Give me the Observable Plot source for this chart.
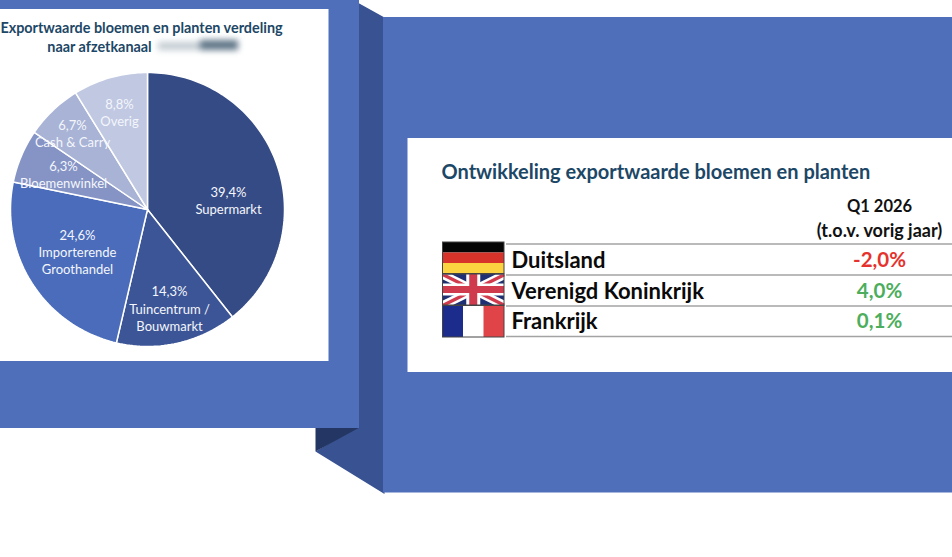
<!DOCTYPE html>
<html>
<head>
<meta charset="utf-8">
<script src="https://cdn.jsdelivr.net/npm/d3@7"></script>
<script src="https://cdn.jsdelivr.net/npm/@observablehq/plot@0.6"></script>
<style>html,body{margin:0;padding:0;background:#fff}svg{display:block}</style>
</head>
<body>
<div id="chart"></div>
<script>
// Data
const channels = ["Supermarkt", "Tuincentrum /\nBouwmarkt", "Importerende\nGroothandel", "Bloemenwinkel", "Cash & Carry", "Overig"];
const shares = [39.4, 14.3, 24.6, 6.3, 6.7, 8.8];
const shareLabels = ["39,4%", "14,3%", "24,6%", "6,3%", "6,7%", "8,8%"];
const sliceColors = ["#344b85", "#3c5596", "#4a6cba", "#8594c5", "#a8b3d6", "#c0c8e2"];
const countries = ["Duitsland", "Verenigd Koninkrijk", "Frankrijk"];
const changes = ["-2,0%", "4,0%", "0,1%"];
const changeColors = ["#e5322d", "#4cae5c", "#4cae5c"];

// Layout (pixel-space scales: one unit on each scale is one pixel)
const W = 952, H = 557;
const BLUE = "#4f6fbb", SIDE = "#385292", SHADE = "#243764", TITLE = "#1d4766", FONT = "Lato, Carlito, sans-serif";
const pie = {cx: 147, cy: 209, r: 137};
const labelAt = [[228, 199.5], [169, 307.5], [77, 251], [63, 173.5], [72, 132.5], [119, 111.5]];
const rowsY = [260, 291, 321];
const ruleY = [243.5, 274.5, 305.5, 336];
const valueX = 879;
const flag = {x1: 442.5, x2: 504};
const flagRows = [[242, 273.5], [274, 305], [305.5, 337]];

const boxes = [
  {x1: 383, x2: W, y1: 17, y2: 492.5, fill: BLUE},
  {x1: 0, x2: 359, y1: 0, y2: 428, fill: BLUE},
  {x1: 0, x2: 328.5, y1: 9, y2: 361, fill: "#fff"},
  {x1: 407.5, x2: W, y1: 138, y2: 372, fill: "#fff"}
];
const polys = [
  {id: "side", fill: SIDE, pts: [[357, 2], [384, 17], [384, 493.5], [315, 451], [357, 426]]},
  {id: "shade", fill: SHADE, pts: [[315, 427], [359, 427], [315, 451]]}
];
const polyPoints = polys.flatMap(p => p.pts.map(([x, y]) => ({id: p.id, fill: p.fill, x, y})));

// Pie slices through d3.pie
const arcs = d3.pie().sort(null)(shares);
const slicePoints = arcs.flatMap((a, i) => {
  const n = Math.ceil((a.endAngle - a.startAngle) * 40);
  const pts = [{i, x: pie.cx, y: pie.cy}];
  for (let k = 0; k <= n; k++) {
    const t = a.startAngle + (a.endAngle - a.startAngle) * k / n;
    pts.push({i, x: pie.cx + pie.r * Math.sin(t), y: pie.cy - pie.r * Math.cos(t)});
  }
  return pts;
});
const sliceLabels = channels.map((c, i) => ({text: shareLabels[i] + "\n" + c, x: labelAt[i][0], y: labelAt[i][1]}));

// Flags
const [de, uk, fr] = flagRows;
const third = (flag.x2 - flag.x1) / 3, rowH = (de[1] - de[0]) / 3;
const flagRects = [
  {x1: flag.x1, x2: flag.x2, y1: de[0], y2: de[0] + rowH, fill: "#050505"},
  {x1: flag.x1, x2: flag.x2, y1: de[0] + rowH, y2: de[0] + 2 * rowH, fill: "#d8332a"},
  {x1: flag.x1, x2: flag.x2, y1: de[0] + 2 * rowH, y2: de[1], fill: "#fbd23f"},
  {x1: flag.x1, x2: flag.x2, y1: uk[0], y2: uk[1], fill: "#1f2f74"},
  {x1: flag.x1, x2: flag.x1 + third, y1: fr[0], y2: fr[1], fill: "#1c2c8c"},
  {x1: flag.x1 + third, x2: flag.x1 + 2 * third, y1: fr[0], y2: fr[1], fill: "#ffffff"},
  {x1: flag.x1 + 2 * third, x2: flag.x2, y1: fr[0], y2: fr[1], fill: "#e04448"}
];
function diagonal(id, flip, tx, ty, fill) {
  const X = u => flip ? flag.x1 + flag.x2 - u : u;
  const a = flag.x1, b = flag.x2, c = uk[0], d = uk[1];
  return [[a, c], [a + tx, c], [b, d - ty], [b, d], [b - tx, d], [a, c + ty]]
    .map(([x, y]) => ({id, fill, x: X(x), y}));
}
const ukDiagonals = [
  ...diagonal("w1", false, 9, 5, "#ffffff"),
  ...diagonal("w2", true, 9, 5, "#ffffff"),
  ...diagonal("r1", false, 3.5, 2, "#cf3a4c"),
  ...diagonal("r2", true, 3.5, 2, "#cf3a4c")
];
const mx = (flag.x1 + flag.x2) / 2, my = (uk[0] + uk[1]) / 2;
const ukCross = [
  {x1: mx - 7, x2: mx + 7, y1: uk[0], y2: uk[1], fill: "#ffffff"},
  {x1: flag.x1, x2: flag.x2, y1: my - 6, y2: my + 6, fill: "#ffffff"},
  {x1: mx - 4, x2: mx + 4, y1: uk[0], y2: uk[1], fill: "#cf3a4c"},
  {x1: flag.x1, x2: flag.x2, y1: my - 3.5, y2: my + 3.5, fill: "#cf3a4c"}
];
const flagFrames = flagRows.map(([y1, y2]) => ({x1: flag.x1, x2: flag.x2, y1, y2}));

const smudges = [
  {x1: 158, x2: 205, y1: 42, y2: 50, fill: "#c3ccd2"},
  {x1: 200, x2: 238, y1: 40, y2: 50, fill: "#5d7486"}
];

const chart = Plot.plot({
  width: W, height: H, margin: 0,
  x: {domain: [0, W], axis: null},
  y: {domain: [H, 0], axis: null},
  style: {background: "#fff", fontFamily: FONT},
  marks: [
    Plot.line(polyPoints, {x: "x", y: "y", z: "id", fill: "fill", stroke: null, curve: "linear-closed"}),
    Plot.rect(boxes, {x1: "x1", x2: "x2", y1: "y1", y2: "y2", fill: "fill"}),

    // Pie
    Plot.line(slicePoints, {x: "x", y: "y", z: "i", fill: d => sliceColors[d.i], stroke: "#fff", strokeWidth: 1.5, strokeLinejoin: "round", curve: "linear-closed"}),
    Plot.text(sliceLabels, {x: "x", y: "y", text: "text", fill: "#f4f6fb", fontSize: 13, lineHeight: 1.33}),

    // Left title
    Plot.text(["Exportwaarde bloemen en planten verdeling"], {x: () => 141, y: () => 28, text: d => d, fill: TITLE, fontSize: 14.4, fontWeight: 700}),
    Plot.text(["naar afzetkanaal"], {x: () => 99, y: () => 46.5, text: d => d, fill: TITLE, fontSize: 14.4, fontWeight: 700}),
    Plot.rect(smudges, {x1: "x1", x2: "x2", y1: "y1", y2: "y2", fill: "fill", imageFilter: "blur(3px)"}),

    // Right table
    Plot.text(["Ontwikkeling exportwaarde bloemen en planten"], {x: () => 441, y: () => 172, text: d => d, textAnchor: "start", fill: TITLE, fontSize: 20, fontWeight: 700}),
    Plot.text(["Q1 2026"], {x: () => valueX, y: () => 206, text: d => d, fill: "#111", fontSize: 16.5, fontWeight: 700}),
    Plot.text(["(t.o.v. vorig jaar)"], {x: () => valueX, y: () => 231, text: d => d, fill: "#111", fontSize: 18, fontWeight: 700}),
    Plot.ruleY(ruleY, {x1: flag.x2 + 2, x2: W, stroke: "#a3a3a3", strokeWidth: 1.6}),
    Plot.text(countries, {x: () => 511, y: (d, i) => rowsY[i], text: d => d, textAnchor: "start", fill: "#0a0a0a", fontSize: 22, fontWeight: 700}),
    Plot.text(changes, {x: () => valueX, y: (d, i) => rowsY[i], text: d => d, fill: (d, i) => changeColors[i], fontSize: 20.5, fontWeight: 700}),

    // Flags
    Plot.rect(flagRects, {x1: "x1", x2: "x2", y1: "y1", y2: "y2", fill: "fill"}),
    Plot.line(ukDiagonals, {x: "x", y: "y", z: "id", fill: "fill", stroke: null, curve: "linear-closed"}),
    Plot.rect(ukCross, {x1: "x1", x2: "x2", y1: "y1", y2: "y2", fill: "fill"}),
    Plot.rect(flagFrames, {x1: "x1", x2: "x2", y1: "y1", y2: "y2", fill: null, stroke: "#444", strokeWidth: 1})
  ]
});
document.getElementById("chart").append(chart);
</script>
</body>
</html>
